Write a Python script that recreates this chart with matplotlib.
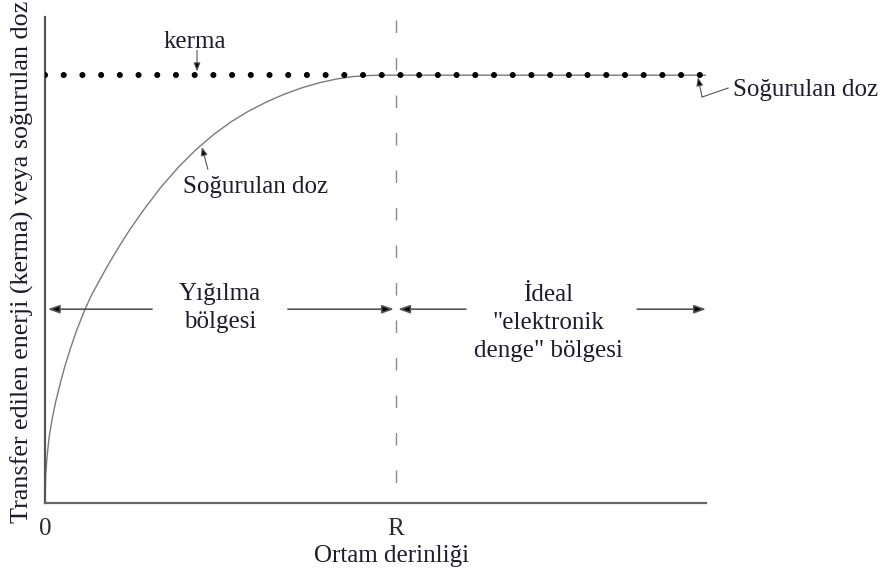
import matplotlib
matplotlib.use("Agg")
import matplotlib.pyplot as plt

plt.rcParams["font.family"] = ["Liberation Serif", "DejaVu Serif"]
plt.rcParams["lines.scale_dashes"] = False

# Absorbed dose build-up curve (depth in units of R, dose relative to kerma)
depth = [0.0, 0.002, 0.006, 0.012, 0.020, 0.030, 0.042, 0.056, 0.072, 0.090,
         0.110, 0.130, 0.155, 0.180, 0.210, 0.240, 0.280, 0.330, 0.380, 0.430,
         0.480, 0.530, 0.580, 0.630, 0.680, 0.730, 0.780, 0.830, 0.880, 0.930,
         0.980, 1.883]
dose = [0.0, 0.065, 0.11, 0.155, 0.195, 0.235, 0.275, 0.318, 0.36, 0.403,
        0.445, 0.482, 0.52, 0.557, 0.598, 0.637, 0.684, 0.738, 0.785, 0.826,
        0.861, 0.891, 0.916, 0.937, 0.955, 0.970, 0.982, 0.991, 0.997, 0.9995,
        1.0, 1.0]
kerma_level = 1.0
kerma_span = [0.0, 1.886]
range_R = 1.0
tick_positions = [0.0, range_R]
tick_labels = ["0", "R"]

TEXT = "#1c1c2c"
FS = 18

fig = plt.figure(figsize=(8.91, 5.76), dpi=100)
W, H = 891, 576
left, right, top, bottom = 45, 706, 17, 503
ax = fig.add_axes([left / W, 1 - bottom / H, (right - left) / W, (bottom - top) / H])
ax.set_xlim(0, 1.883)
ax.set_ylim(0, 1.136)

# spines
for s in ("top", "right"):
    ax.spines[s].set_visible(False)
ax.spines["left"].set_color("#555555")
ax.spines["left"].set_linewidth(1.6)
ax.spines["bottom"].set_color("#666666")
ax.spines["bottom"].set_linewidth(1.6)

ax.set_yticks([])
ax.set_xticks(tick_positions)
ax.set_xticklabels(tick_labels, fontsize=FS, color="#2a2a2a")
ax.tick_params(axis="x", length=0, pad=11)

# absorbed dose curve
ax.plot(depth, dose, color="#7a7a7a", lw=1.0, zorder=2)

# kerma as large dots
ax.plot(kerma_span, [kerma_level, kerma_level], color="black", lw=4.4,
        linestyle=(0, (0.01, 13.46)), dash_capstyle="round", zorder=3)

# range R (dashes start from the top)
ax.plot([range_R, range_R], [1.13, 0], color="#8a8a8a", lw=1.0,
        linestyle=(0, (9, 18)), zorder=1)

ax.set_ylabel("Transfer edilen enerji (kerma) veya soğurulan doz",
              fontsize=18.8, color=TEXT)
ax.yaxis.label.set_va("center")
ax.yaxis.set_label_coords(-0.0348, 0.496)
ax.set_xlabel("Ortam derinliği", fontsize=FS, color=TEXT)
ax.xaxis.label.set_va("center")
ax.xaxis.set_label_coords(0.525, -0.109)

arrow_kw = dict(arrowstyle="-|>,head_length=0.7,head_width=0.25",
                color="#555555", lw=1.2, shrinkA=0, shrinkB=0)
y_arr = 0.453


def arrow(x0, y0, x1, y1, **kw):
    props = dict(arrow_kw)
    props.update(kw)
    a = ax.annotate("", xy=(x1, y1), xytext=(x0, y0), arrowprops=props,
                    annotation_clip=False)
    a.arrow_patch.set_facecolor("black")
    return a


# region arrows
arrow(0.305, y_arr, 0.008, y_arr)
arrow(0.692, y_arr, 0.994, y_arr)
arrow(1.199, y_arr, 1.006, y_arr)
arrow(1.687, y_arr, 1.883, y_arr)

ax.text(0.499, 0.456, "Yığılma\nbölgesi", ha="center", va="center",
        fontsize=FS, color=TEXT, linespacing=1.35)
ax.text(1.433, 0.421, "İdeal\n\"elektronik\ndenge\" bölgesi", ha="center",
        va="center", fontsize=FS, color=TEXT, linespacing=1.35)

# labels with pointers
ax.text(0.427, 1.077, "kerma", ha="center", va="center", fontsize=FS,
        color=TEXT, clip_on=False)
arrow(0.433, 1.058, 0.433, 1.009, lw=0.8,
      arrowstyle="-|>,head_length=0.5,head_width=0.2")

ax.text(0.601, 0.738, "Soğurulan doz", ha="center", va="center", fontsize=FS,
        color=TEXT)
arrow(0.464, 0.780, 0.447, 0.832, lw=0.8,
      arrowstyle="-|>,head_length=0.5,head_width=0.2")

ax.text(1.960, 0.965, "Soğurulan doz", ha="left", va="center", fontsize=FS,
        color=TEXT, clip_on=False)
ax.plot([1.946, 1.872], [0.970, 0.949], color="#555555", lw=0.8,
        clip_on=False)
arrow(1.872, 0.949, 1.860, 0.995, lw=0.8,
      arrowstyle="-|>,head_length=0.5,head_width=0.2")

fig.savefig("out.png", dpi=100)
